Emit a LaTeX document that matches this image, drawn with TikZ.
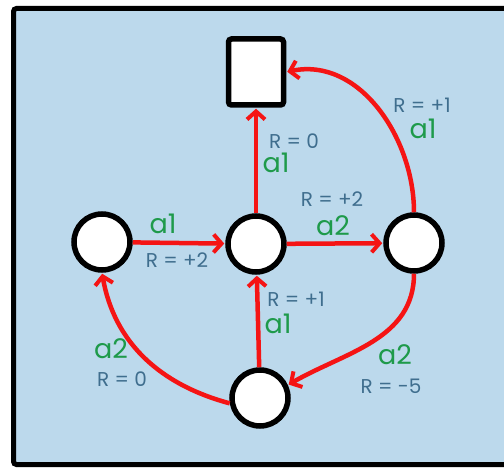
\documentclass[tikz,border=0pt]{standalone}
\usepackage{fontspec}
\setmainfont{Poppins}
\usetikzlibrary{arrows.meta}
\definecolor{bg}{HTML}{BCD9EC}
\definecolor{edgec}{HTML}{F51414}
\definecolor{grn}{HTML}{1E9A4A}
\definecolor{rtxt}{HTML}{3F6E8E}
\tikzset{
  state/.style={circle, draw=black, fill=white, line width=5.5pt, minimum size=56pt, inner sep=0pt},
  term/.style={rectangle, draw=black, fill=white, line width=5.5pt, minimum width=55pt, minimum height=66pt, rounded corners=3pt, inner sep=0pt},
  arc/.style={draw=edgec, line width=4.5pt, -{Straight Barb[length=8pt,width=18pt,line width=4pt]}, shorten >=1pt},
  act/.style={text=grn, font=\fontsize{27}{27}\selectfont, inner sep=0pt},
  rew/.style={text=rtxt, font=\fontsize{20}{20}\selectfont, inner sep=0pt}
}
\begin{document}
\begin{tikzpicture}[x=1pt,y=-1pt]
\useasboundingbox (0,0) rectangle (504,468);
\fill[white] (0,0) rectangle (504,468);
\filldraw[fill=bg, draw=black, line width=5pt, rounded corners=3pt] (13.5,8.5) rectangle (530,464.5);

\node[term]  (T)  at (256,72)  {};
\node[state] (L)  at (102,242) {};
\node[state] (C)  at (256,244) {};
\node[state] (Rt) at (414,243) {};
\node[state] (B)  at (260,398) {};

\draw[arc] (C) -- (T);
\draw[arc] (L) -- (C);
\draw[arc] (C) -- (Rt);
\draw[arc] (B) -- (C);
\draw[arc] (Rt.north) to[out=90, in=12] (T.east);
\draw[arc] (Rt.south) to[out=-90, in=30] (B.25);
\draw[arc] (B.190) to[out=165, in=-80] (L.south);

\node[rew] (l1) at (294,141) {R = 0};
\node[act] (l2) at (276,163) {a1};
\node[rew] (l3) at (422,105) {R = +1};
\node[act] (l4) at (423,129) {a1};
\node[act] (l5) at (163,224) {a1};
\node[rew] (l6) at (177,260) {R = +2};
\node[rew] (l7) at (332,199) {R = +2};
\node[act] (l8) at (333,226) {a2};
\node[rew] (l9) at (296,299) {R = +1};
\node[act] (l10) at (278,324) {a1};
\node[act] (l11) at (111,349) {a2};
\node[rew] (l12) at (122,379) {R = 0};
\node[act] (l13) at (395,355) {a2};
\node[rew] (l14) at (391,386) {R = -5};
\end{tikzpicture}
\end{document}
